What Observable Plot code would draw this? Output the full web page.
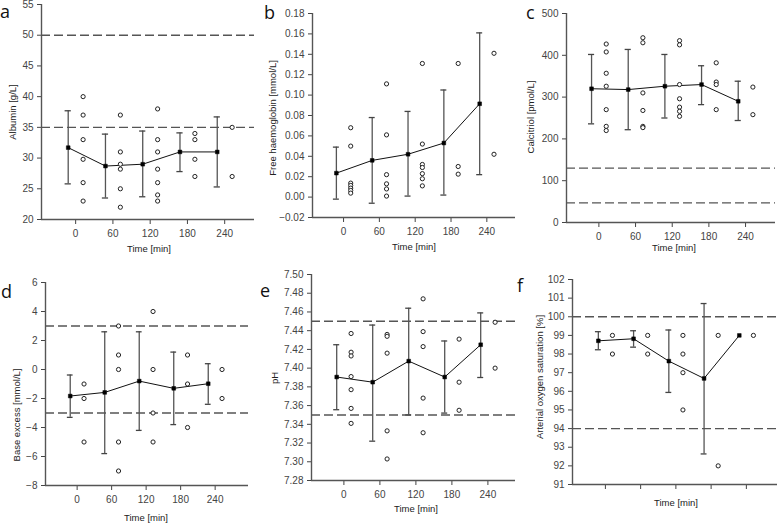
<!DOCTYPE html>
<html><head><meta charset="utf-8">
<script src="https://cdn.jsdelivr.net/npm/d3@7"></script>
<script src="https://cdn.jsdelivr.net/npm/@observablehq/plot@0.6"></script>
<style>
body{margin:0;background:#fff;}
#fig{position:relative;width:778px;height:524px;overflow:hidden;font-family:"Liberation Sans",Arial,sans-serif;}
.panel{position:absolute;}
.panel svg{overflow:visible;}
.lbl{position:absolute;white-space:nowrap;font-size:9.5px;color:#222;transform:translate(-50%,-50%);line-height:1;}
.rot{transform:translate(-50%,-50%) rotate(-90deg);}
.letter{position:absolute;font-family:"Open Sans",sans-serif;font-size:18px;color:#111;line-height:14px;height:14px;}
</style></head>
<body><div id="fig"></div>
<script>
// ---- shared categories / tick labels ----
const times = [0, 60, 120, 180, 240];
const timeTitle = "Time [min]";

// ---- a: Albumin ----
const albMean = [31.7, 28.7, 29.0, 31.0, 31.0];
const albHi = [37.7, 33.9, 34.4, 34.1, 36.7];
const albLo = [25.8, 23.5, 23.7, 27.8, 25.3];
const albPts = [[40, 37, 33, 29.8, 26, 23], [37, 31, 29, 28.2, 25, 22], [38, 33, 31, 28.2, 26, 24, 23], [34, 33, 29.8, 27], [35, 27]];
const albRefs = [35, 50];
const albTicks = [20, 25, 30, 35, 40, 45, 50, 55];

// ---- b: Free haemoglobin ----
const hbMean = [0.0235, 0.036, 0.042, 0.053, 0.0915];
const hbHi = [0.049, 0.078, 0.084, 0.105, 0.161];
const hbLo = [-0.002, -0.006, 0.001, 0.002, 0.022];
const hbPts = [[0.068, 0.050, 0.0137, 0.0114, 0.0088, 0.0065, 0.0039], [0.111, 0.061, 0.022, 0.013, 0.008, 0.001], [0.131, 0.052, 0.032, 0.029, 0.023, 0.018, 0.011], [0.131, 0.030, 0.0225], [0.141, 0.042]];
const hbRefs = [];
const hbTicks = [-0.02, 0, 0.02, 0.04, 0.06, 0.08, 0.10, 0.12, 0.14, 0.16, 0.18];

// ---- c: Calcitriol ----
const calMean = [320, 318, 326, 330, 290];
const calHi = [402, 414, 402, 375, 338];
const calLo = [236, 222, 250, 282, 244];
const calPts = [[427, 408, 357, 326, 270, 230, 220], [442, 430, 310, 268, 230, 227], [435, 425, 330, 296, 276, 266, 254], [382, 336, 330, 270], [324, 258]];
const calRefs = [47, 130];
const calTicks = [0, 100, 200, 300, 400, 500];

// ---- d: Base excess ----
const beMean = [-1.83, -1.58, -0.8, -1.3, -0.98];
const beHi = [-0.38, 2.6, 2.6, 1.2, 0.4];
const beLo = [-3.3, -5.8, -4.2, -3.8, -2.4];
const bePts = [[-1, -2, -5], [3, 1, 0, -5, -7], [4, 0, -3, -5], [1, -1, -4], [0, -2]];
const beRefs = [-3, 3];
const beTicks = [-8, -6, -4, -2, 0, 2, 4, 6];

// ---- e: pH ----
const phMean = [7.3905, 7.385, 7.4075, 7.3905, 7.425];
const phHi = [7.425, 7.446, 7.464, 7.429, 7.459];
const phLo = [7.3556, 7.322, 7.350, 7.352, 7.390];
const phPts = [[7.437, 7.417, 7.413, 7.391, 7.377, 7.357, 7.341], [7.436, 7.434, 7.416, 7.333, 7.303], [7.474, 7.439, 7.423, 7.368, 7.331], [7.431, 7.385, 7.355], [7.449, 7.400]];
const phRefs = [7.35, 7.45];
const phTicks = [7.28, 7.30, 7.32, 7.34, 7.36, 7.38, 7.40, 7.42, 7.44, 7.46, 7.48, 7.50];

// ---- f: Arterial oxygen saturation ----
const satMean = [98.71, 98.82, 97.62, 96.69, 99.0];
const satHi = [99.2, 99.25, 99.29, 100.71, null];
const satLo = [98.23, 98.37, 95.94, 92.64, null];
const satPts = [[99, 98], [99, 98], [99, 98, 97, 95], [99, 92], [99]];
const satRefs = [94, 100];
const satTicks = [91, 92, 93, 94, 95, 96, 97, 98, 99, 100, 101, 102];

const meanShift = -12, ptShift = 12, capW = 5;
const fig = document.getElementById("fig");

const panels = [
  {letter:"a", mean:albMean, hi:albHi, lo:albLo, pts:albPts, refs:albRefs, yticks:albTicks, fmt:d3.format("d"),
   ydom:[20,55], xdom:[-55,288], left:0, top:0, w:260, h:262, ml:41, mt:4, mb:43, mr:6, xlabels:true,
   ytitle:"Albumin [g/L]", yt:[13,112], xt:[149,249], lt:[0,4]},
  {letter:"b", mean:hbMean, hi:hbHi, lo:hbLo, pts:hbPts, refs:hbRefs, yticks:hbTicks, fmt:d3.format(".2f"),
   ydom:[-0.02,0.18], xdom:[-52,288], left:255, top:0, w:265, h:262, ml:57, mt:13, mb:45, mr:5, xlabels:true,
   ytitle:"Free haemoglobin [mmol/L]", yt:[273,118], xt:[414,247], lt:[264,5]},
  {letter:"c", mean:calMean, hi:calHi, lo:calLo, pts:calPts, refs:calRefs, yticks:calTicks, fmt:d3.format("d"),
   ydom:[0,500], xdom:[-53,289], left:515, top:0, w:263, h:262, ml:51, mt:13, mb:40, mr:3, xlabels:true,
   ytitle:"Calcitriol [pmol/L]", yt:[531,117], xt:[674,248], lt:[526,5]},
  {letter:"d", mean:beMean, hi:beHi, lo:beLo, pts:bePts, refs:beRefs, yticks:beTicks, fmt:d3.format("d"),
   ydom:[-8,6], xdom:[-55,298], left:0, top:260, w:260, h:264, ml:45, mt:22, mb:39, mr:12, xlabels:true,
   ytitle:"Base excess [mmol/L]", yt:[17,415], xt:[146,518], lt:[1,284]},
  {letter:"e", mean:phMean, hi:phHi, lo:phLo, pts:phPts, refs:phRefs, yticks:phTicks, fmt:d3.format(".2f"),
   ydom:[7.28,7.50], xdom:[-54,286], left:255, top:260, w:263, h:264, ml:56, mt:14, mb:44, mr:3, xlabels:true,
   ytitle:"pH", yt:[275,378], xt:[416,509], lt:[260,283]},
  {letter:"f", mean:satMean, hi:satHi, lo:satLo, pts:satPts, refs:satRefs, yticks:satTicks, fmt:d3.format("d"),
   ydom:[91,102], xdom:[-56,293], left:515, top:260, w:263, h:264, ml:57, mt:19, mb:40, mr:1, xlabels:false,
   ytitle:"Arterial oxygen saturation [%]", yt:[540,377], xt:[676,503], lt:[517,278]}
];

for (const p of panels) {
  const meanRows = times.map((t, i) => ({t: t + meanShift, m: p.mean[i], hi: p.hi[i], lo: p.lo[i]}));
  const errRows = meanRows.filter(d => d.hi != null);
  const ptRows = p.pts.flatMap((arr, i) => arr.map(v => ({t: times[i] + ptShift, v})));
  const chart = Plot.plot({
    width: p.w, height: p.h,
    marginLeft: p.ml, marginTop: p.mt, marginBottom: p.mb, marginRight: p.mr,
    style: {fontFamily: '"Liberation Sans", Arial, sans-serif', fontSize: "10px", color: "#444", background: "transparent"},
    x: {domain: p.xdom, ticks: times, tickSize: 5, tickPadding: 5, label: null,
        tickFormat: p.xlabels ? d3.format("d") : () => ""},
    y: {domain: p.ydom, ticks: p.yticks, tickFormat: p.fmt, tickSize: 4, tickPadding: 4, label: null},
    marks: [
      Plot.ruleY(p.refs, {stroke: "#555", strokeWidth: 1.4, strokeDasharray: "9,4"}),
      Plot.ruleX(errRows, {x: "t", y1: "lo", y2: "hi", stroke: "#555", strokeWidth: 1.3}),
      Plot.ruleY(errRows, {y: "hi", x1: d => d.t - capW, x2: d => d.t + capW, stroke: "#444", strokeWidth: 1.3}),
      Plot.ruleY(errRows, {y: "lo", x1: d => d.t - capW, x2: d => d.t + capW, stroke: "#444", strokeWidth: 1.3}),
      Plot.line(meanRows, {x: "t", y: "m", stroke: "#111", strokeWidth: 1}),
      Plot.dot(meanRows, {x: "t", y: "m", symbol: "square", r: 2.1, fill: "#000", stroke: "#000", strokeWidth: 0.5}),
      Plot.dot(ptRows, {x: "t", y: "v", r: 2.1, stroke: "#222", strokeWidth: 1, fill: "white"}),
      Plot.ruleX([p.xdom[0]], {stroke: "#555", strokeWidth: 1.4}),
      Plot.ruleY([p.ydom[0]], {stroke: "#555", strokeWidth: 1.4})
    ]
  });
  const div = document.createElement("div");
  div.className = "panel";
  div.style.left = p.left + "px";
  div.style.top = p.top + "px";
  div.appendChild(chart);
  fig.appendChild(div);

  const yt = document.createElement("div");
  yt.className = "lbl rot";
  yt.style.left = p.yt[0] + "px"; yt.style.top = p.yt[1] + "px";
  yt.textContent = p.ytitle;
  fig.appendChild(yt);

  const xt = document.createElement("div");
  xt.className = "lbl";
  xt.style.left = p.xt[0] + "px"; xt.style.top = p.xt[1] + "px";
  xt.textContent = timeTitle;
  fig.appendChild(xt);

  const lt = document.createElement("div");
  lt.className = "letter";
  lt.style.left = p.lt[0] + "px"; lt.style.top = p.lt[1] + "px";
  lt.textContent = p.letter;
  fig.appendChild(lt);
}
</script>
</body></html>
